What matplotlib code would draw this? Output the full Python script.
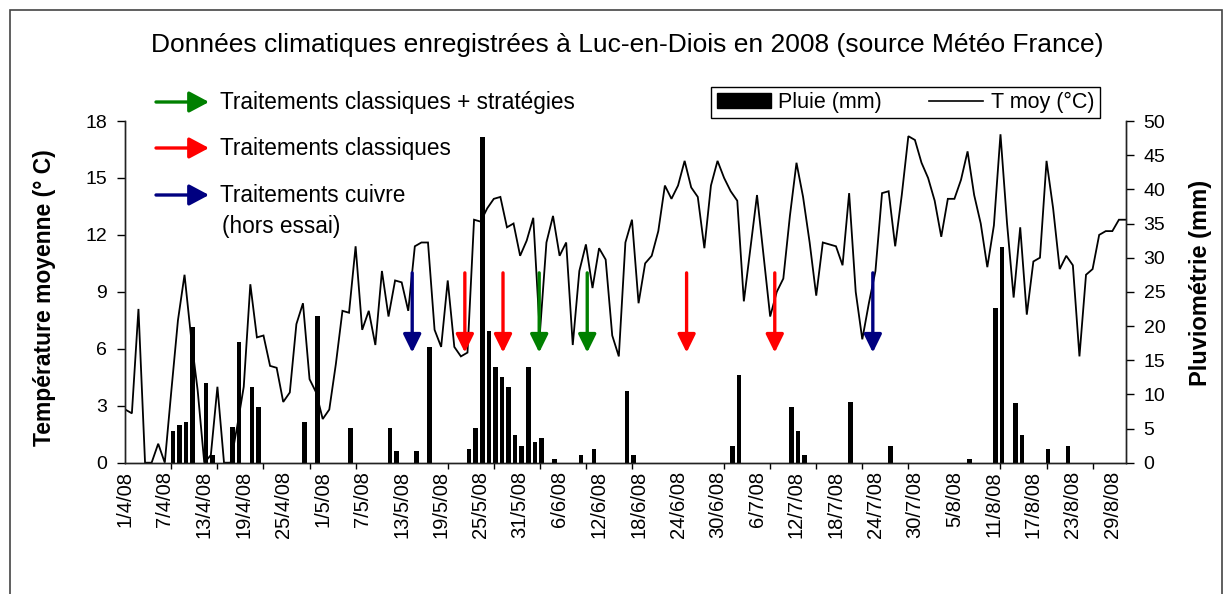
import numpy as np
import matplotlib
matplotlib.use("Agg")
import matplotlib.pyplot as plt
from matplotlib.lines import Line2D
from matplotlib.patches import Rectangle
from matplotlib.text import Annotation

plt.rcParams['font.family'] = ['Liberation Sans', 'DejaVu Sans']

# Temperature moyenne journaliere (°C), du 1/4/08 au 31/8/08
t_avril = [2.8, 2.6, 8.1, 0, 0, 1.0, 0, 3.8, 7.5, 9.9,
           6.6, 3.8, 0, 0.4, 4.0, 0, 0, 1.9, 4.0, 9.4,
           6.6, 6.7, 5.1, 5.0, 3.2, 3.7, 7.3, 8.4, 4.4, 3.7]
t_mai = [2.3, 2.8, 5.2, 8.0, 7.9, 11.4, 7.0, 8.0, 6.2, 10.1,
         7.7, 9.6, 9.5, 8.0, 11.4, 11.6, 11.6, 7.0, 6.1, 9.6,
         6.1, 5.6, 5.8, 12.8, 12.7, 13.4, 13.9, 14.0, 12.4, 12.6, 10.9]
t_juin = [11.7, 12.9, 6.8, 11.6, 13.0, 10.9, 11.6, 6.2, 10.1, 11.5,
          9.2, 11.3, 10.7, 6.7, 5.6, 11.6, 12.8, 8.4, 10.5, 10.9,
          12.2, 14.6, 13.9, 14.6, 15.9, 14.5, 14.0, 11.3, 14.6, 15.9]
t_juillet = [15.0, 14.3, 13.8, 8.5, 11.3, 14.1, 10.9, 7.7, 9.0, 9.7,
             13.0, 15.8, 14.0, 11.6, 8.8, 11.6, 11.5, 11.4, 10.4, 14.2,
             9.0, 6.5, 8.4, 10.1, 14.2, 14.3, 11.4, 14.1, 17.2, 17.0, 15.8]
t_aout = [15.0, 13.8, 11.9, 13.9, 13.9, 14.9, 16.4, 14.1, 12.6, 10.3,
          12.5, 17.3, 12.6, 8.7, 12.4, 7.8, 10.6, 10.8, 15.9, 13.4,
          10.2, 10.9, 10.4, 5.6, 9.9, 10.2, 12.0, 12.2, 12.2, 12.8, 12.8]

# Pluie journaliere (mm)
p_avril = [0, 0, 0, 0, 0, 0, 0, 4.6, 5.5, 6.0,
           19.9, 0, 11.6, 1.1, 0, 0, 5.2, 17.6, 0, 11.1,
           8.2, 0, 0, 0, 0, 0, 0, 6.0, 0, 21.5]
p_mai = [0, 0, 0, 0, 5.1, 0, 0, 0, 0, 0,
         5.1, 1.7, 0, 0, 1.7, 0, 17.0, 0, 0, 0,
         0, 0, 2.0, 5.1, 47.6, 19.2, 14.0, 12.5, 11.1, 4.0, 2.4]
p_juin = [14.0, 3.1, 3.6, 0, 0.6, 0, 0, 0, 1.1, 0,
          2.0, 0, 0, 0, 0, 10.5, 1.1, 0, 0, 0,
          0, 0, 0, 0, 0, 0, 0, 0, 0, 0]
p_juillet = [0, 2.4, 12.9, 0, 0, 0, 0, 0, 0, 0,
             8.1, 4.6, 1.1, 0, 0, 0, 0, 0, 0, 8.9,
             0, 0, 0, 0, 0, 2.4, 0, 0, 0, 0, 0]
p_aout = [0, 0, 0, 0, 0, 0, 0.5, 0, 0, 0,
          22.7, 31.5, 0, 8.7, 4.0, 0, 0, 0, 2.0, 0,
          0, 2.4, 0, 0, 0, 0, 0, 0, 0, 0, 0]

date_labels = ["1/4/08", "7/4/08", "13/4/08", "19/4/08", "25/4/08", "1/5/08",
               "7/5/08", "13/5/08", "19/5/08", "25/5/08", "31/5/08", "6/6/08",
               "12/6/08", "18/6/08", "24/6/08", "30/6/08", "6/7/08", "12/7/08",
               "18/7/08", "24/7/08", "30/7/08", "5/8/08", "11/8/08", "17/8/08",
               "23/8/08", "29/8/08"]

# traitements: position en jours depuis le 1/4 (fleches posees a la main)
trait_strat = [62.9, 70.2]                   # vert
trait_classiques = [51.6, 57.4, 85.3, 98.7]  # rouge
trait_cuivre = [43.6, 113.6]                 # bleu

GREEN, RED, BLUE = "#008000", "#ff0000", "#000080"

tmoy = np.array(t_avril + t_mai + t_juin + t_juillet + t_aout)
pluie = np.array(p_avril + p_mai + p_juin + p_juillet + p_aout)
days = np.arange(len(tmoy))

W, H = 1229, 594
fig = plt.figure(figsize=(W / 100, H / 100), dpi=100)
ax = fig.add_axes([125.3 / W, (H - 462.7) / H, 1000.2 / W, 341.7 / H])
ax2 = ax.twinx()

ax.plot(days, tmoy, color="black", lw=1.3, solid_joinstyle="miter")
ax2.bar(days + 0.25, pluie, width=0.7, color="black")

ax.set_xlim(0, len(days) - 1)
ax.set_ylim(0, 18)
ax.set_yticks(range(0, 19, 3))
ax2.set_ylim(0, 50)
ax2.set_yticks(range(0, 51, 5))

ax.set_xticks(days[::6])
ax.set_xticklabels(date_labels, rotation=90, fontsize=14.5)
ax.set_xticks(np.arange(0, len(days), 7), minor=True)
ax.tick_params(axis="x", which="major", length=0, pad=6)
ax.tick_params(axis="x", which="minor", length=4, width=1, direction="out")
ax.tick_params(axis="y", length=6, width=1, direction="out", labelsize=14, pad=7)
ax2.tick_params(axis="y", length=6, width=1, direction="out", labelsize=14, pad=7)

for a in (ax, ax2):
    a.spines["top"].set_visible(False)
    for s in ("left", "right", "bottom"):
        a.spines[s].set_linewidth(1.0)
        a.spines[s].set_color("#222222")

# fleches de traitement (dessinees au-dessus des barres)
arrow_style = "-|>,head_length=0.55,head_width=0.27"
for xs, col in [(trait_strat, GREEN), (trait_classiques, RED), (trait_cuivre, BLUE)]:
    for x in xs:
        ax2.annotate("", xy=(x, 5.8), xytext=(x, 10.0),
                     xycoords=ax.transData, textcoords=ax.transData,
                     arrowprops=dict(arrowstyle=arrow_style, color=col, lw=2.4,
                                     mutation_scale=20, shrinkA=0, shrinkB=0))

# legende des fleches
leg_style = "-|>,head_length=0.6,head_width=0.32"
leg_items = [(102, GREEN, "Traitements classiques + stratégies"),
             (148, RED, "Traitements classiques"),
             (195, BLUE, "Traitements cuivre")]
for y, col, txt in leg_items:
    fig.add_artist(Annotation(
        "", xy=(209, H - y), xytext=(156, H - y),
        xycoords="figure pixels", textcoords="figure pixels",
        arrowprops=dict(arrowstyle=leg_style, color=col, lw=2.4,
                        mutation_scale=20, shrinkA=0, shrinkB=0)))
    fig.text(220 / W, (H - y) / H, txt, fontsize=16.3, va="center", ha="left")
fig.text(222 / W, (H - 226) / H, "(hors essai)", fontsize=16.3, va="center", ha="left")

fig.text(627.5 / W, (H - 45) / H,
         "Données climatiques enregistrées à Luc-en-Diois en 2008 (source Météo France)",
         fontsize=19, ha="center", va="center")

fig.text(45 / W, (H - 298) / H, "Température moyenne (° C)", rotation=90,
         fontsize=16.5, fontweight="bold", ha="center", va="center")
fig.text(1200 / W, (H - 283) / H, "Pluviométrie (mm)", rotation=90,
         fontsize=17, fontweight="bold", ha="center", va="center")

fig.legend(handles=[Rectangle((0, 0), 1, 1, fc="black", ec="black"),
                    Line2D([], [], color="black", lw=1.2)],
           labels=["Pluie (mm)", "T moy (°C)"], ncol=2, loc="center",
           bbox_to_anchor=(905.5 / W, (H - 102.5) / H), fontsize=15.5,
           frameon=True, fancybox=False, edgecolor="black", framealpha=1,
           handlelength=2.5, handleheight=0.7, columnspacing=2.2,
           borderpad=0.25, handletextpad=0.35)

# cadre de la zone de graphique
fig.add_artist(Rectangle((10 / W, -0.05), 1212 / W, (H - 10) / H + 0.05,
                         transform=fig.transFigure, fill=False,
                         ec="#444444", lw=1.2))

fig.savefig("out.png", dpi=100)
